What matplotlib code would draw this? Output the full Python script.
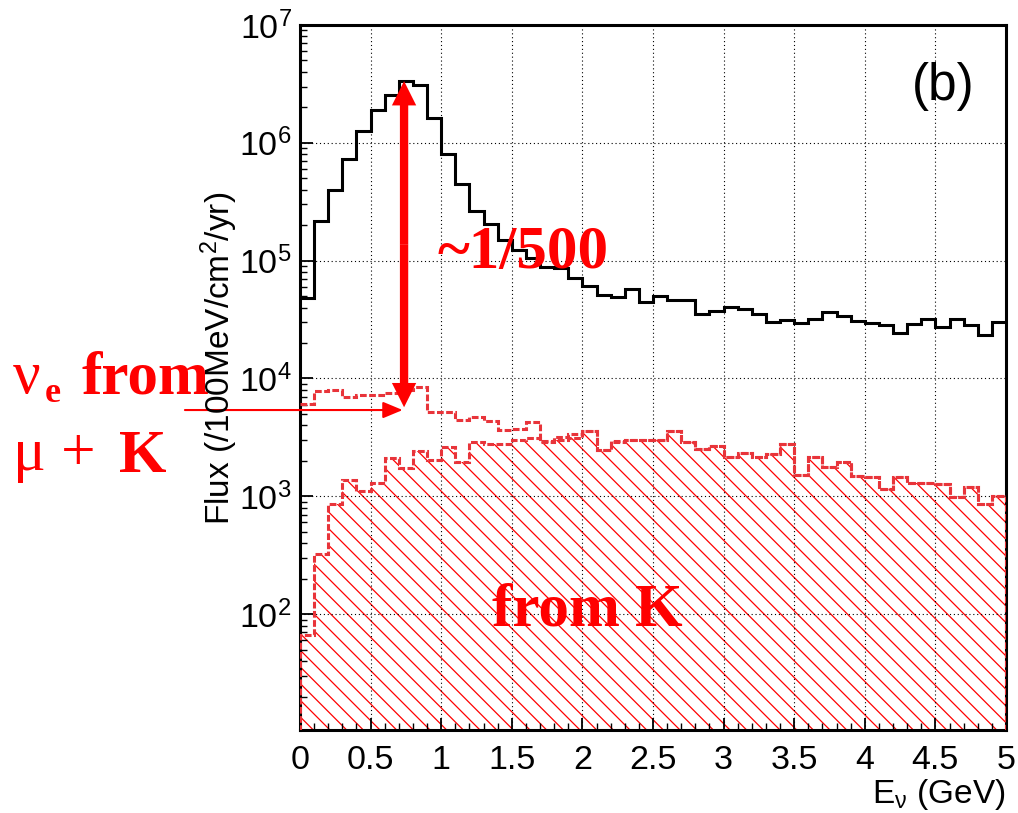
import numpy as np
import matplotlib
matplotlib.use("Agg")
import matplotlib.pyplot as plt
from matplotlib.ticker import FixedLocator, LogLocator, NullFormatter, MultipleLocator, FuncFormatter
from matplotlib.patches import FancyArrowPatch, ArrowStyle

plt.rcParams['font.family'] = ['Liberation Sans', 'DejaVu Sans']
plt.rcParams['mathtext.fontset'] = 'custom'
plt.rcParams['mathtext.rm'] = 'Liberation Sans'
plt.rcParams['mathtext.it'] = 'Liberation Sans:italic'
plt.rcParams['mathtext.bf'] = 'Liberation Sans:bold'
plt.rcParams['hatch.linewidth'] = 0.9

# ---------------- data (bins of 0.1 GeV from 0 to 5 GeV) ----------------
bin_edges = np.linspace(0.0, 5.0, 51)

flux_numu = [4.8e4, 2.15e5, 3.95e5, 7.3e5, 1.26e6, 1.89e6, 2.54e6, 3.34e6, 3.09e6, 1.61e6,
             8.0e5, 4.45e5, 2.62e5, 2.04e5, 1.49e5, 1.22e5, 1.05e5, 8.9e4, 8.6e4, 7.1e4,
             6.15e4, 5.13e4, 4.9e4, 5.77e4, 4.5e4, 4.97e4, 4.66e4, 4.66e4, 3.53e4, 3.77e4,
             4.03e4, 3.9e4, 3.53e4, 3.0e4, 3.14e4, 2.94e4, 3.2e4, 3.65e4, 3.36e4, 3.06e4,
             2.95e4, 2.86e4, 2.42e4, 2.9e4, 3.2e4, 2.72e4, 3.2e4, 2.85e4, 2.35e4, 3.0e4]

flux_nue_mu_k = [6.1e3, 7.76e3, 7.98e3, 7.0e3, 7.2e3, 7.2e3, 7.5e3, 8.0e3, 8.5e3, 5.15e3,
                 5.2e3, 4.43e3, 4.67e3, 4.4e3, 3.65e3, 3.7e3, 4.3e3, 2.96e3, 3.16e3, 3.41e3,
                 3.6e3, 2.47e3, 2.96e3, 3.0e3, 3.0e3, 3.0e3, 3.55e3, 2.87e3, 2.51e3, 2.68e3,
                 2.14e3, 2.35e3, 2.14e3, 2.3e3, 2.8e3, 1.52e3, 2.16e3, 1.78e3, 1.94e3, 1.49e3,
                 1.45e3, 1.15e3, 1.47e3, 1.31e3, 1.31e3, 1.28e3, 990, 1.19e3, 857, 1.0e3]

flux_nue_k = [67, 326, 867, 1.37e3, 1.11e3, 1.31e3, 2.1e3, 1.75e3, 2.43e3, 2.03e3,
              2.63e3, 1.94e3, 2.87e3, 2.8e3, 2.8e3, 3.0e3, 3.12e3, 2.87e3, 3.0e3, 3.12e3,
              3.55e3, 2.47e3, 2.87e3, 3.0e3, 3.0e3, 3.0e3, 3.55e3, 2.87e3, 2.51e3, 2.68e3,
              2.14e3, 2.35e3, 2.14e3, 2.3e3, 2.8e3, 1.52e3, 2.16e3, 1.78e3, 1.94e3, 1.49e3,
              1.45e3, 1.15e3, 1.47e3, 1.31e3, 1.31e3, 1.28e3, 990, 1.19e3, 857, 1.0e3]

x_range = (0.0, 5.0)
y_range = (10.5, 1e7)
y_major_ticks = [1e2, 1e3, 1e4, 1e5, 1e6, 1e7]

# annotation anchors (data coordinates)
ratio_arrow_x = 0.737
ratio_arrow_top = 3.34e6
ratio_arrow_bottom = 5.7e3
pointer_start_x = -0.815
pointer_tip = (0.727, 5.4e3)

W, H, DPI = 1018, 813, 100
fig = plt.figure(figsize=(W / DPI, H / DPI), dpi=DPI)
ax = fig.add_axes([300 / W, 1 - 729.5 / H, 706 / W, (729.5 - 25) / H])

RED = '#ff0000'
RED_LINE = '#e8343a'
DOTS = (0, (2.2, 0.8))

# hatched "from K" region
ax.stairs(flux_nue_k, bin_edges, baseline=1.0, fill=True, facecolor='none',
          edgecolor=RED, hatch='\\\\', linewidth=0, zorder=1)
ax.stairs(flux_nue_k, bin_edges, baseline=1.0, color=RED_LINE, linewidth=2.2,
          linestyle=DOTS, zorder=3)
ax.stairs(flux_nue_mu_k, bin_edges, baseline=None, color=RED_LINE, linewidth=2.2,
          linestyle=DOTS, zorder=3)
ax.stairs(flux_numu, bin_edges, baseline=None, color='black', linewidth=2.2, zorder=4)

ax.set_yscale('log')
ax.set_xlim(*x_range)
ax.set_ylim(*y_range)

ax.xaxis.set_major_locator(MultipleLocator(0.5))
ax.xaxis.set_minor_locator(MultipleLocator(0.1))
ax.xaxis.set_major_formatter(FuncFormatter(lambda v, p: '%g' % v))
ax.yaxis.set_major_locator(FixedLocator(y_major_ticks))
ax.yaxis.set_minor_locator(LogLocator(base=10, subs=np.arange(2, 10), numticks=50))
ax.yaxis.set_minor_formatter(NullFormatter())

ax.tick_params(which='both', direction='in', top=False, right=False, labelsize=24.5)
ax.tick_params(which='major', length=9, width=1.3)
ax.tick_params(which='minor', length=5, width=1.0)
ax.tick_params(axis='x', which='major', pad=11)
ax.tick_params(axis='y', which='major', pad=6)
for s in ax.spines.values():
    s.set_linewidth(2.2)

ax.grid(True, which='major', color='black', linestyle=(0, (1, 2.5)), linewidth=0.8)
ax.set_axisbelow(False)

# arrows
mid = np.sqrt(ratio_arrow_top * ratio_arrow_bottom)
style = ArrowStyle('simple', head_length=1.75, head_width=1.75, tail_width=0.6)
for end in (ratio_arrow_top, ratio_arrow_bottom):
    ax.add_patch(FancyArrowPatch((ratio_arrow_x, mid), (ratio_arrow_x, end), arrowstyle=style,
                                 mutation_scale=10, color=RED, linewidth=0,
                                 shrinkA=0, shrinkB=0, zorder=6))

ax.annotate('', xy=pointer_tip, xytext=(pointer_start_x, pointer_tip[1]),
            arrowprops=dict(arrowstyle='-|>,head_length=1.2,head_width=0.5', color=RED,
                            lw=1.5, shrinkA=0, shrinkB=0, mutation_scale=10),
            annotation_clip=False, zorder=6)


def ftext(x, y, s, **kw):
    fig.text(x / W, 1 - y / H, s, **kw)


serif_b = dict(family='Liberation Serif', weight='bold', color=RED, va='baseline', ha='left')
serif_r = dict(family='Liberation Serif', weight='normal', color=RED, va='baseline', ha='left')

ftext(438, 268, '~1/500', fontsize=44, **serif_b)
ftext(492, 625, 'from K', fontsize=44, **serif_b)
ftext(13, 393, 'ν', fontsize=44, **serif_r)
ftext(45, 402, 'e', fontsize=26, **serif_b)
ftext(82, 393, 'from', fontsize=44, **serif_b)
ftext(13, 470, 'μ +', fontsize=44, **serif_r)
ftext(119, 472, 'K', fontsize=44, **serif_b)

ftext(912, 100, '(b)', fontsize=37, va='baseline', ha='left')

ftext(1005, 803, r'E$_{\mathrm{ν}}$ (GeV)', fontsize=24, va='baseline', ha='right')
ftext(219, 358, r'Flux (/100MeV/cm$^{2}$/yr)', fontsize=24, rotation=90,
      va='center', ha='center')

fig.savefig('out.png', dpi=DPI)
